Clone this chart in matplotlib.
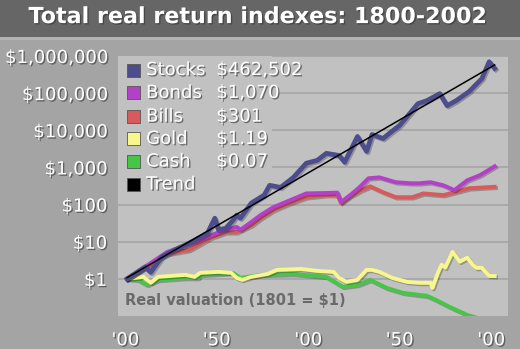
import matplotlib
matplotlib.use("Agg")
import matplotlib.pyplot as plt
import matplotlib.patheffects as pe
from matplotlib.patches import Rectangle

# values (real $ value of $1 invested in 1801)
stock_years = [1801, 1811, 1814, 1820, 1827, 1833, 1838, 1845, 1849, 1851, 1855, 1859, 1861,
               1863, 1869, 1876, 1879, 1885, 1892, 1899, 1905, 1910, 1917, 1920, 1927, 1932,
               1935, 1941, 1945, 1950, 1956, 1960, 1965, 1972, 1976, 1981, 1988, 1995, 1999, 2002]
stock_values = [1.0, 2.1, 1.5, 3.9, 6.0, 8.2, 11, 17, 43, 21, 23, 38, 52,
                43, 110, 180, 330, 290, 540, 1300, 1550, 2400, 2100, 1380, 6800, 2700,
                7700, 6000, 8700, 13500, 30000, 52000, 63000, 97000, 46000, 63000, 110000,
                245000, 700000, 462502]

bond_years = [1801, 1823, 1838, 1847, 1855, 1861, 1863, 1869, 1874, 1881, 1890, 1899, 1910,
              1916, 1918, 1923, 1928, 1933, 1939, 1948, 1956, 1961, 1967, 1974, 1980, 1987,
              1994, 2002]
bond_values = [1.0, 5.3, 9.8, 15, 21, 25, 21, 34, 52, 85, 130, 200, 205,
               210, 116, 180, 290, 510, 540, 400, 375, 375, 400, 330, 245, 450,
               620, 1070]

bill_years = [1801, 1823, 1835, 1847, 1855, 1861, 1869, 1874, 1881, 1890, 1899, 1910, 1916,
              1918, 1923, 1929, 1934, 1941, 1948, 1957, 1963, 1974, 1980, 1988, 2002]
bill_values = [1.0, 4.7, 6.0, 13, 18, 18, 28, 43, 71, 110, 158, 180, 180,
               110, 168, 245, 310, 215, 158, 158, 200, 180, 215, 275, 301]

gold_years = [1801, 1810, 1814, 1818, 1833, 1838, 1841, 1851, 1858, 1861, 1864, 1869, 1878,
              1883, 1896, 1905, 1914, 1917, 1921, 1927, 1932, 1935, 1939, 1946, 1954, 1961,
              1967, 1968, 1971, 1973, 1975, 1979, 1983, 1987, 1990, 1992, 1995, 1999, 2002]
gold_values = [1.0, 1.13, 0.78, 1.13, 1.28, 1.13, 1.45, 1.54, 1.45, 1.06, 0.94, 1.13, 1.36,
               1.74, 1.85, 1.64, 1.54, 1.06, 0.83, 0.94, 1.74, 1.74, 1.54, 1.06, 0.83, 0.78,
               0.78, 0.57, 1.45, 2.4, 2.0, 5.3, 2.9, 3.7, 2.4, 1.97, 1.97, 1.2, 1.19]

cash_years = [1801, 1807, 1812, 1818, 1833, 1840, 1841, 1859, 1863, 1874, 1892, 1910, 1919,
              1927, 1934, 1943, 1952, 1965, 1970, 1977, 1987, 1994, 2002]
cash_values = [1.0, 0.94, 0.69, 0.94, 1.06, 1.06, 1.28, 1.45, 1.06, 1.28, 1.36, 1.13, 0.61,
               0.69, 0.94, 0.57, 0.42, 0.35, 0.27, 0.18, 0.107, 0.085, 0.07]

trend_years = [1801, 2002]
trend_values = [1.07, 575000]

series_names = ["Stocks", "Bonds", "Bills", "Gold", "Cash", "Trend"]
series_finals = ["$462,502", "$1,070", "$301", "$1.19", "$0.07", ""]
series_colors = ["#4d4d8e", "#b43fc8", "#d95a5a", "#f7f78c", "#46c646", "#000000"]

ytick_values = [1, 10, 100, 1000, 10000, 100000, 1000000]
ytick_labels = ["$1", "$10", "$100", "$1,000", "$10,000", "$100,000", "$1,000,000"]
xtick_values = [1800, 1850, 1900, 1950, 2000]
xtick_labels = ["'00", "'50", "'00", "'50", "'00"]

outer_bg = "#a4a4a4"
panel_bg = "#c1c1c1"

fig = plt.figure(figsize=(5.2, 3.49), dpi=100, facecolor=outer_bg)

# title bar
fig.patches.append(Rectangle((0, 312 / 349), 1, 37 / 349, transform=fig.transFigure,
                             facecolor="#666666", edgecolor="none", zorder=0))
fig.patches.append(Rectangle((0, 309 / 349), 1, 3 / 349, transform=fig.transFigure,
                             facecolor="#b2b2b2", edgecolor="none", zorder=0))
shadow = [pe.withSimplePatchShadow(offset=(1, -1), shadow_rgbFace="#333333", alpha=0.6)]
fig.text(0.497, 0.951, "Total real return indexes: 1800-2002", color="white",
         fontsize=16, fontweight="bold", ha="center", va="center", path_effects=shadow)

ax = fig.add_axes([118 / 520, 33 / 349, 390 / 520, 260 / 349])
ax.set_facecolor(panel_bg)
for s in ax.spines.values():
    s.set_visible(False)

ax.set_yscale("log")
ax.set_ylim(0.1, 1000000)
ax.set_xlim(1796.1, 2009.3)

line_fx = [pe.SimpleLineShadow(offset=(1, -1), shadow_color="k", alpha=0.25), pe.Normal()]
ax.plot(cash_years, cash_values, color=series_colors[4], lw=2.8, zorder=3,
        solid_joinstyle="round", path_effects=line_fx)
ax.plot(gold_years, gold_values, color=series_colors[3], lw=2.8, zorder=4,
        solid_joinstyle="round", path_effects=line_fx)
ax.plot(bill_years, bill_values, color=series_colors[2], lw=2.8, zorder=5,
        solid_joinstyle="round", path_effects=line_fx)
ax.plot(bond_years, bond_values, color=series_colors[1], lw=2.8, zorder=6,
        solid_joinstyle="round", path_effects=line_fx)
ax.plot(stock_years, stock_values, color=series_colors[0], lw=3.4, zorder=7,
        solid_joinstyle="round", path_effects=line_fx)
ax.plot(trend_years, trend_values, color=series_colors[5], lw=1.1, zorder=8)

ax.set_yticks(ytick_values)
ax.set_yticklabels(ytick_labels)
ax.minorticks_off()
ax.set_xticks(xtick_values)
ax.set_xticklabels(xtick_labels)
ax.tick_params(axis="both", length=0, colors="white", labelsize=13)
ax.tick_params(axis="y", pad=8)
ax.tick_params(axis="x", pad=11)
for lab in ax.get_yticklabels() + ax.get_xticklabels():
    lab.set_path_effects(shadow)

ax.set_axisbelow(True)
ax.yaxis.grid(True, color="#a9a9a9", lw=1.4)

# legend block (covers the grid lines behind it)
ax.add_patch(Rectangle((0, 0.46), 0.395, 0.54, transform=ax.transAxes,
                       facecolor=panel_bg, edgecolor="none", zorder=2))
row_y = [0.946, 0.858, 0.767, 0.681, 0.594, 0.506]
for name, final, col, yy in zip(series_names, series_finals, series_colors, row_y):
    ax.add_patch(Rectangle((0.023, yy - 0.025), 0.033, 0.05, transform=ax.transAxes,
                           facecolor=col, edgecolor="#555555", lw=0.6, zorder=9))
    ax.text(0.072, yy, name, transform=ax.transAxes, color="white", fontsize=13,
            va="center", ha="left", zorder=9, path_effects=shadow)
    if final:
        ax.text(0.252, yy, final, transform=ax.transAxes, color="white", fontsize=13,
                va="center", ha="left", zorder=9, path_effects=shadow,
                bbox=dict(facecolor=panel_bg, edgecolor="none", pad=1))

ax.text(0.018, 0.058, "Real valuation (1801 = $1)", transform=ax.transAxes,
        color="#6a6a6a", fontsize=10.5, fontweight="bold", va="center", ha="left", zorder=9)

fig.savefig("out.png", dpi=100, facecolor=outer_bg)
